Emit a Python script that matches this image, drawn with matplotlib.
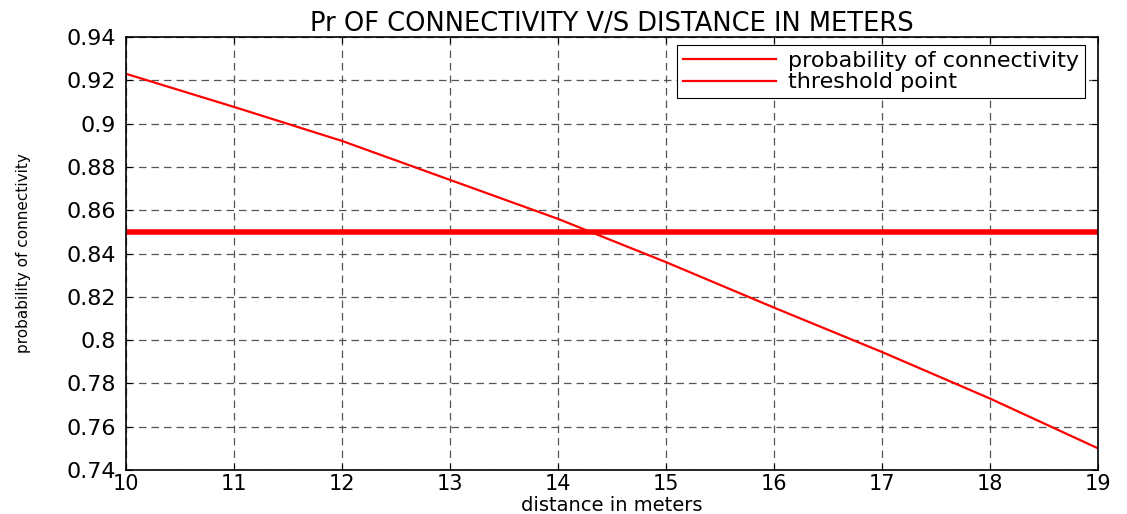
import numpy as np
import matplotlib.pyplot as plt

plt.rcParams['font.family'] = ['DejaVu Sans']

# values
distance = [10, 11, 12, 13, 14, 15, 16, 17, 18, 19]
prob_conn = [0.923, 0.9077, 0.892, 0.874, 0.856, 0.836, 0.815, 0.7945, 0.773, 0.750]
threshold = 0.85
x_ticks = [10, 11, 12, 13, 14, 15, 16, 17, 18, 19]
y_ticks = [0.74, 0.76, 0.78, 0.8, 0.82, 0.84, 0.86, 0.88, 0.9, 0.92, 0.94]

fig = plt.figure(figsize=(11.27, 5.14), dpi=100)
ax = fig.add_axes([0.1118, 0.0856, 0.8625, 0.8424])

ax.plot(distance, prob_conn, color='red', lw=1.6, label='probability of connectivity')
ax.axhline(threshold, color='red', lw=4, label='threshold point')
# legend shows thin line for threshold too
handles, labels = ax.get_legend_handles_labels()
thin = plt.Line2D([], [], color='red', lw=1.6)
leg = ax.legend([handles[0], thin], labels, loc='upper right', fontsize=16,
                fancybox=False, framealpha=1, edgecolor='black',
                borderpad=0.25, handlelength=4.2, labelspacing=0.08,
                handletextpad=0.55, borderaxespad=0,
                bbox_to_anchor=(0.9866, 0.9815))
leg.get_frame().set_linewidth(0.8)

ax.set_xlim(10, 19)
ax.set_ylim(0.74, 0.94)
ax.set_xticks(x_ticks)
ax.set_yticks(y_ticks)
ax.set_xticklabels([str(v) for v in x_ticks])
ax.set_yticklabels(['%g' % v for v in y_ticks])
ax.tick_params(direction='in', top=True, right=True, labelsize=16, length=4)
ax.tick_params(axis='x', pad=3, labelsize=15)
ax.tick_params(axis='y', pad=7)
ax.grid(True, color='#555555', ls=(0, (6, 4)), lw=0.9)
for s in ax.spines.values():
    s.set_linewidth(1.2)

ax.set_title('Pr OF CONNECTIVITY V/S DISTANCE IN METERS', fontsize=18.5, pad=4)
ax.set_xlabel('distance in meters', fontsize=14, labelpad=1)
ax.set_ylabel('probability of connectivity', fontsize=11, labelpad=26)

fig.savefig('out.png', dpi=100)
